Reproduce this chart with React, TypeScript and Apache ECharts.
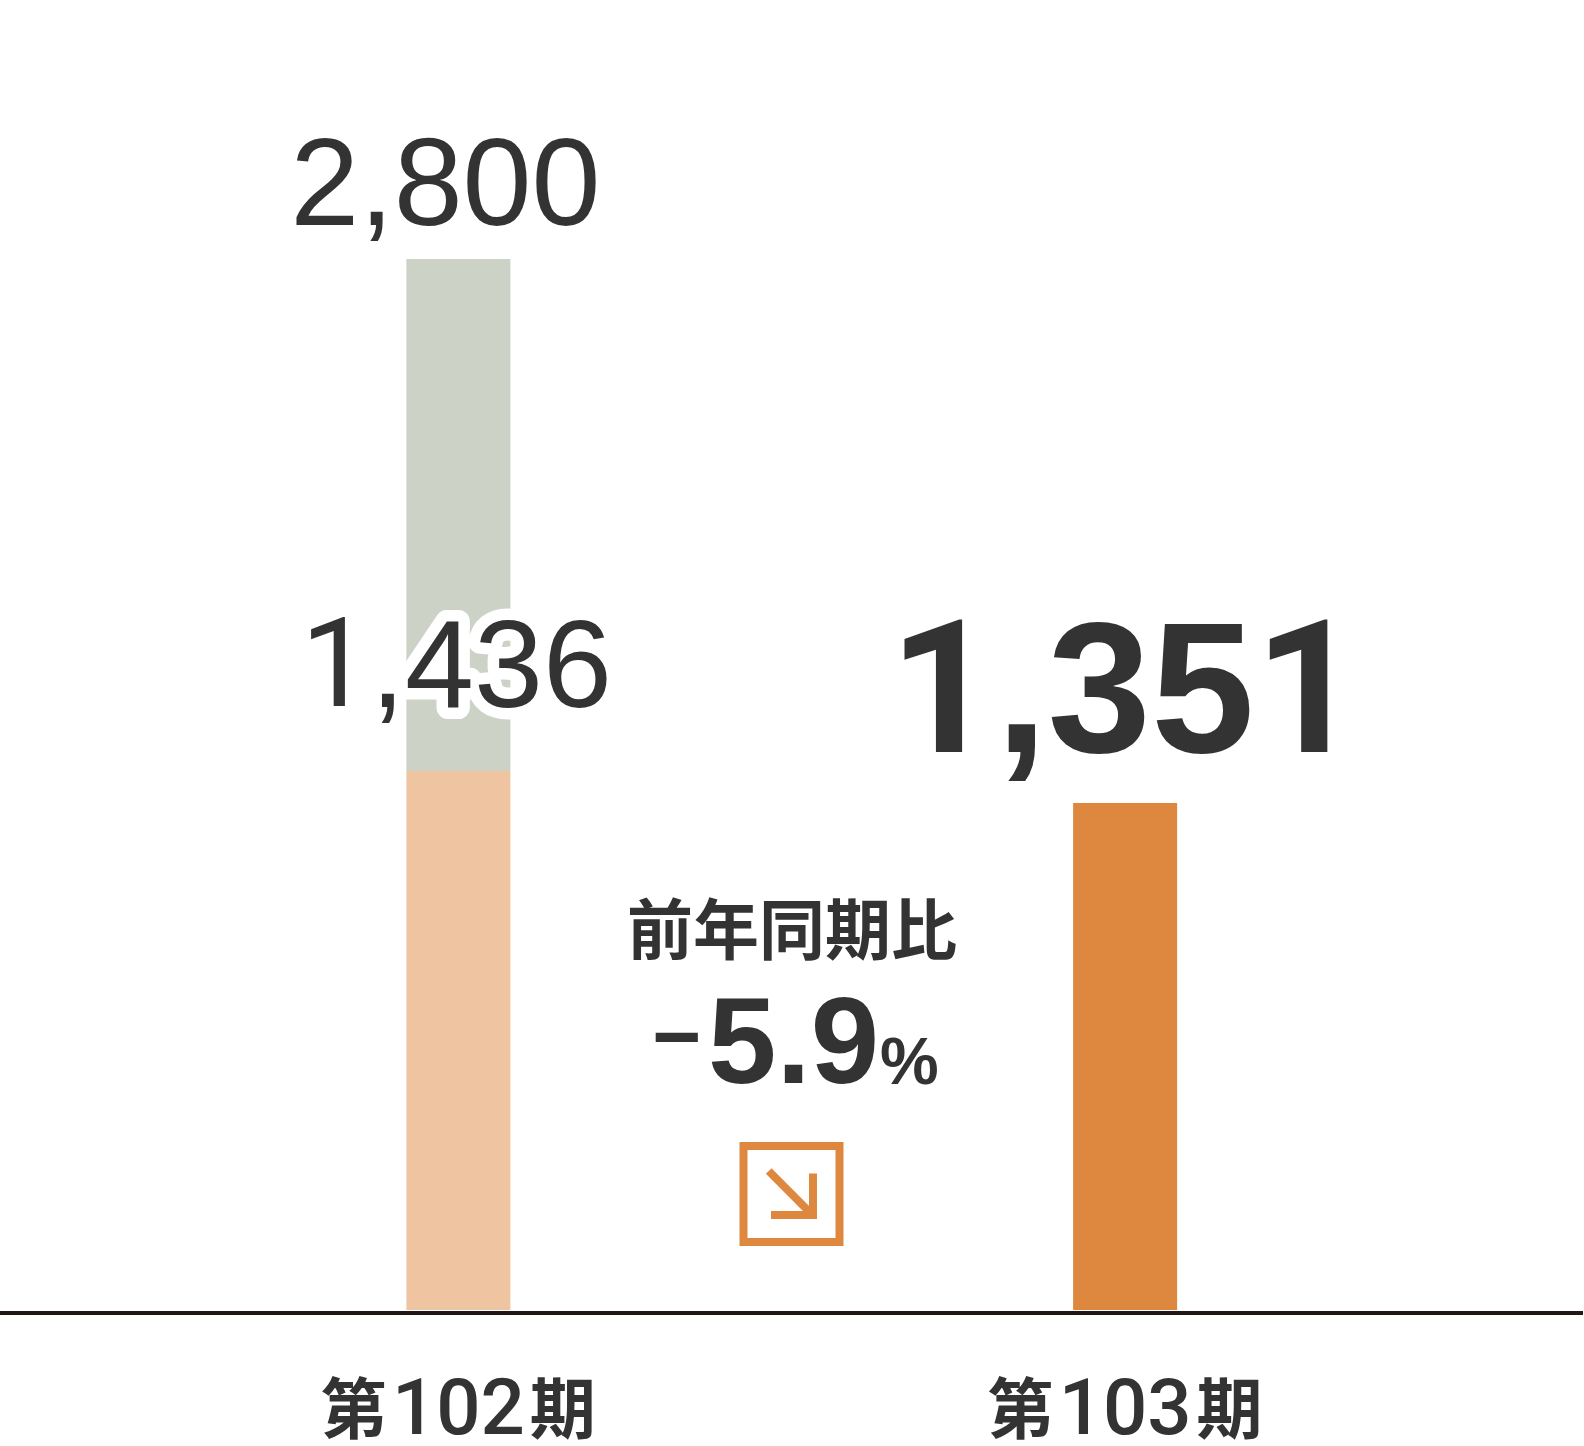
import React, { useEffect, useRef } from "react";
import * as echarts from "echarts";

const categories = ["第102期", "第103期"];
const lowerValues = [1436, 1351];
const upperValues = [1364, 0];
const totalLabels = ["2,800", ""];
const valueLabels = ["1,436", "1,351"];
const compareTitle = "前年同期比";
const LATIN = '"Liberation Sans", Arial, sans-serif';
const ROBOTO = 'Roboto, "Liberation Sans", sans-serif';
const CJK = '"Noto Sans CJK JP", "Liberation Sans", sans-serif';
const INK = "#333333";

const markOnes = (s: string) =>
  s.split("1").map((part) => (part ? `{l|${part}}` : "")).join("{r|1}");

export default function App() {
  const ref = useRef<HTMLDivElement>(null);
  useEffect(() => {
    const chart = echarts.init(ref.current!, undefined, { renderer: "svg" });
    const halo = { textBorderColor: "#ffffff", textBorderWidth: 23 };
    chart.setOption({
      animation: false,
      backgroundColor: "#ffffff",
      grid: { left: 125, width: 1333.5, top: 0, height: 1311, containLabel: false },
      xAxis: {
        type: "category",
        data: categories,
        axisLine: { show: false },
        axisTick: { show: false },
        axisLabel: {
          margin: 64,
          formatter: (v: string) => `{a|${v[0]}}{d|${v.slice(1, -1)}}{b|${v[v.length - 1]}}`,
          rich: {
            a: { fontFamily: CJK, fontWeight: "bold", fontSize: 66, color: INK, lineHeight: 60, padding: [0, 5, 0, 0] },
            b: { fontFamily: CJK, fontWeight: "bold", fontSize: 66, color: INK, lineHeight: 60, padding: [0, 0, 0, 5] },
            d: { fontFamily: ROBOTO, fontWeight: 500, fontSize: 78, color: INK, lineHeight: 60, padding: [6, 0, 0, 0] },
          },
        },
      },
      yAxis: { type: "value", min: 0, max: 3490, show: false },
      series: [
        {
          type: "bar",
          stack: "a",
          barWidth: 104,
          z: 3,
          data: [
            {
              value: lowerValues[0],
              itemStyle: { color: "#EFC4A0" },
              label: {
                show: true,
                position: "top",
                distance: 45,
                offset: [-2, 0],
                formatter: markOnes(valueLabels[0]),
                rich: {
                  l: { fontFamily: LATIN, fontSize: 124, color: INK, ...halo },
                  r: { fontFamily: ROBOTO, fontSize: 124, color: INK, ...halo },
                },
              },
            },
            {
              value: lowerValues[1],
              itemStyle: { color: "#DD873F" },
              label: {
                show: true,
                position: "top",
                distance: 22,
                formatter: markOnes(valueLabels[1]),
                rich: {
                  l: { fontFamily: LATIN, fontWeight: "bold", fontSize: 186, color: INK },
                  r: { fontFamily: ROBOTO, fontWeight: "bold", fontSize: 186, color: INK },
                },
              },
            },
          ],
        },
        {
          type: "bar",
          stack: "a",
          barWidth: 104,
          z: 2,
          itemStyle: { color: "#CCD2C6" },
          data: [
            {
              value: upperValues[0],
              label: {
                show: true,
                position: "top",
                distance: 15,
                offset: [-13, 0],
                formatter: totalLabels[0],
                fontFamily: LATIN,
                fontSize: 124,
                color: INK,
              },
            },
            { value: upperValues[1] },
          ],
        },
      ],
      graphic: [
        {
          type: "line",
          z: 10,
          shape: { x1: 0, y1: 1313, x2: 1583, y2: 1313 },
          style: { stroke: "#231815", lineWidth: 4 },
        },
        {
          type: "text",
          x: 792,
          y: 925,
          style: {
            text: compareTitle,
            font: `bold 66px ${CJK}`,
            fill: INK,
            align: "center",
            verticalAlign: "middle",
          },
        },
        {
          type: "text",
          x: 652,
          y: 1040,
          style: {
            text: "{m|−}{n|5.9}{p|%}",
            fill: INK,
            align: "left",
            verticalAlign: "middle",
            rich: {
              m: { font: `bold 84px ${LATIN}`, fill: INK, verticalAlign: "middle", padding: [0, 7, 8, 0] },
              n: { font: `bold 123px ${LATIN}`, fill: INK, verticalAlign: "bottom" },
              p: { font: `bold 66px ${LATIN}`, fill: INK, verticalAlign: "bottom", padding: [0, 0, 8, 1] },
            },
          },
        },
        {
          type: "rect",
          shape: { x: 743.5, y: 1146, width: 96, height: 96 },
          style: { fill: "none", stroke: "#DD873F", lineWidth: 8 },
        },
        {
          type: "polyline",
          shape: { points: [[771, 1215], [813, 1215], [813, 1173.5]] },
          style: { fill: "none", stroke: "#DD873F", lineWidth: 8 },
        },
        {
          type: "line",
          shape: { x1: 768.7, y1: 1171, x2: 811, y2: 1213.5 },
          style: { stroke: "#DD873F", lineWidth: 8 },
        },
      ],
    });
    return () => chart.dispose();
  }, []);
  return (
    <>
      <style>{"svg text{stroke-linejoin:round}"}</style>
      <div ref={ref} style={{ position: "absolute", left: 0, top: 0, width: 1584, height: 1446 }} />
    </>
  );
}
